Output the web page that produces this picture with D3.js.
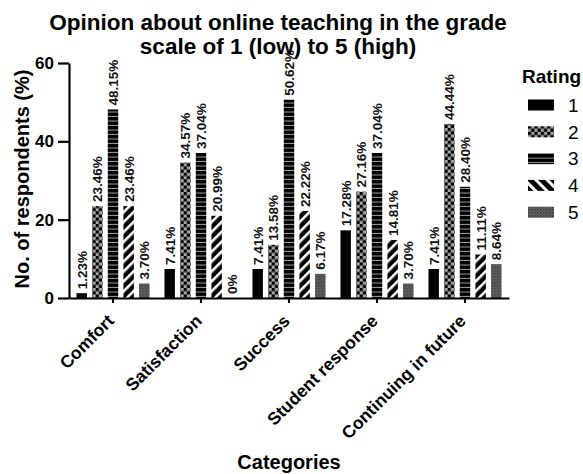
<!DOCTYPE html>
<html>
<head>
<meta charset="utf-8">
<script src="https://cdn.jsdelivr.net/npm/d3@7"></script>
<style>
  html, body { margin: 0; padding: 0; background: #fff; }
  svg { display: block; font-family: "Liberation Sans", Arial, sans-serif; }
</style>
</head>
<body>
<svg id="chart" width="583" height="474"></svg>
<script>
const categories = ["Comfort", "Satisfaction", "Success", "Student response", "Continuing in future"];
const ratings = ["1", "2", "3", "4", "5"];
const rating1 = [1.23, 7.41, 7.41, 17.28, 7.41];
const rating2 = [23.46, 34.57, 13.58, 27.16, 44.44];
const rating3 = [48.15, 37.04, 50.62, 37.04, 28.40];
const rating4 = [23.46, 20.99, 22.22, 14.81, 11.11];
const rating5 = [3.70, 0, 6.17, 3.70, 8.64];
const seriesValues = [rating1, rating2, rating3, rating4, rating5];
const yTicks = [0, 20, 40, 60];
const titleLines = ["Opinion about online teaching in the grade", "scale of 1 (low) to 5 (high)"];
const yTitle = "No. of respondents (%)";
const xTitle = "Categories";
const legendTitle = "Rating";

const svg = d3.select("#chart");
const defs = svg.append("defs");

// 2: checkerboard
const p2 = defs.append("pattern").attr("id", "pat2").attr("patternUnits", "userSpaceOnUse")
  .attr("width", 6.4).attr("height", 6.4);
p2.append("rect").attr("width", 6.4).attr("height", 6.4).attr("fill", "#a5a5a5");
p2.append("rect").attr("width", 3.2).attr("height", 3.2).attr("fill", "#000");
p2.append("rect").attr("x", 3.2).attr("y", 3.2).attr("width", 3.2).attr("height", 3.2).attr("fill", "#000");
// 3: black with thin horizontal light lines
const p3 = defs.append("pattern").attr("id", "pat3").attr("patternUnits", "userSpaceOnUse")
  .attr("width", 6).attr("height", 4.5);
p3.append("rect").attr("width", 6).attr("height", 4.5).attr("fill", "#000");
p3.append("rect").attr("y", 3.5).attr("width", 6).attr("height", 1).attr("fill", "#9a9a9a");
// 4: diagonal stripes (bars "/")
const p4 = defs.append("pattern").attr("id", "pat4").attr("patternUnits", "userSpaceOnUse")
  .attr("width", 7).attr("height", 7).attr("patternTransform", "rotate(45)");
p4.append("rect").attr("width", 7).attr("height", 7).attr("fill", "#000");
p4.append("rect").attr("width", 2.6).attr("height", 7).attr("fill", "#fff");
// 4 legend: diagonal stripes "\"
const p4l = defs.append("pattern").attr("id", "pat4l").attr("patternUnits", "userSpaceOnUse")
  .attr("width", 8).attr("height", 8).attr("patternTransform", "rotate(-45)");
p4l.append("rect").attr("width", 8).attr("height", 8).attr("fill", "#000");
p4l.append("rect").attr("width", 3).attr("height", 8).attr("fill", "#fff");
// 5: dark gray fine mesh
const p5 = defs.append("pattern").attr("id", "pat5").attr("patternUnits", "userSpaceOnUse")
  .attr("width", 3).attr("height", 3);
p5.append("rect").attr("width", 3).attr("height", 3).attr("fill", "#6a6a6a");
p5.append("rect").attr("width", 1.5).attr("height", 1.5).attr("fill", "#333");
p5.append("rect").attr("x", 1.5).attr("y", 1.5).attr("width", 1.5).attr("height", 1.5).attr("fill", "#4a4a4a");

const barFills = ["#000", "url(#pat2)", "url(#pat3)", "url(#pat4)", "url(#pat5)"];
const legendFills = ["#000", "url(#pat2)", "url(#pat3)", "url(#pat4l)", "url(#pat5)"];

// Scales
const x0 = d3.scaleBand().domain(categories).range([69, 509]).paddingInner(0.17).paddingOuter(0.085);
const x1 = d3.scaleBand().domain(ratings).range([0, x0.bandwidth()]).paddingInner(1 / 3);
const y = d3.scaleLinear().domain([0, 60]).range([298, 63]);

const fmt = v => v === 0 ? "0%" : v.toFixed(2) + "%";

// Bars
const groups = svg.append("g").selectAll("g")
  .data(categories)
  .join("g")
  .attr("transform", d => `translate(${x0(d)},0)`);

groups.each(function (cat, ci) {
  const g = d3.select(this);
  const rows = ratings.map((r, ri) => ({ r, ri, v: seriesValues[ri][ci] }));
  g.selectAll("rect")
    .data(rows)
    .join("rect")
    .attr("x", d => x1(d.r))
    .attr("y", d => y(d.v))
    .attr("width", x1.bandwidth())
    .attr("height", d => y(0) - y(d.v))
    .attr("fill", d => barFills[d.ri]);
  g.selectAll("text")
    .data(rows)
    .join("text")
    .attr("transform", d => `translate(${x1(d.r) + x1.bandwidth() / 2},${y(d.v) - 4}) rotate(-90)`)
    .attr("dy", "0.36em")
    .attr("text-anchor", "start")
    .attr("font-size", 13.5)
    .attr("font-weight", "bold")
    .attr("fill", "#111")
    .text(d => fmt(d.v));
});

// Y axis
const yAxis = svg.append("g")
  .attr("transform", "translate(69,0)")
  .call(d3.axisLeft(y).tickValues(yTicks).tickSize(11).tickSizeOuter(0).tickPadding(4));
yAxis.select(".domain").attr("stroke", "#000").attr("stroke-width", 2.2);
yAxis.selectAll(".tick line").attr("stroke", "#000").attr("stroke-width", 2.2);
yAxis.selectAll(".tick text")
  .attr("font-size", 17).attr("font-weight", "bold").attr("fill", "#000")
  .attr("font-family", "Liberation Sans, Arial, sans-serif");

// X axis
const xAxis = svg.append("g")
  .attr("transform", `translate(0,${y(0)})`)
  .call(d3.axisBottom(x0).tickSize(5).tickSizeOuter(0));
xAxis.select(".domain").attr("stroke", "#000").attr("stroke-width", 2.2);
xAxis.selectAll(".tick line").attr("stroke", "#000").attr("stroke-width", 2);
xAxis.selectAll(".tick text")
  .attr("y", 0).attr("dy", 0)
  .attr("transform", "translate(2,24) rotate(-45)")
  .attr("text-anchor", "end")
  .attr("font-size", 17.5).attr("font-weight", "bold").attr("fill", "#000")
  .attr("font-family", "Liberation Sans, Arial, sans-serif");

// Titles
svg.append("g").selectAll("text")
  .data(titleLines)
  .join("text")
  .attr("x", 278)
  .attr("y", (d, i) => 30 + i * 23.5)
  .attr("text-anchor", "middle")
  .attr("font-size", 22.5)
  .attr("font-weight", "bold")
  .attr("fill", "#000")
  .text(d => d);

svg.append("text")
  .attr("transform", "translate(22,179) rotate(-90)")
  .attr("dy", "0.36em")
  .attr("text-anchor", "middle")
  .attr("font-size", 20)
  .attr("font-weight", "bold")
  .text(yTitle);

svg.append("text")
  .attr("x", (x0.range()[0] + x0.range()[1]) / 2)
  .attr("y", 469)
  .attr("text-anchor", "middle")
  .attr("font-size", 20)
  .attr("font-weight", "bold")
  .text(xTitle);

// Legend
const legend = svg.append("g");
legend.append("text")
  .attr("x", 522).attr("y", 83)
  .attr("font-size", 19).attr("font-weight", "bold")
  .text(legendTitle);
const items = legend.selectAll("g.item")
  .data(ratings)
  .join("g")
  .attr("class", "item")
  .attr("transform", (d, i) => `translate(528,${105 + i * 26.8})`);
items.append("rect")
  .attr("x", 0).attr("y", -5.5).attr("width", 26).attr("height", 11)
  .attr("fill", (d, i) => legendFills[i]);
items.append("text")
  .attr("x", 40).attr("y", 0).attr("dy", "0.36em")
  .attr("font-size", 19)
  .text(d => d);
</script>
</body>
</html>
